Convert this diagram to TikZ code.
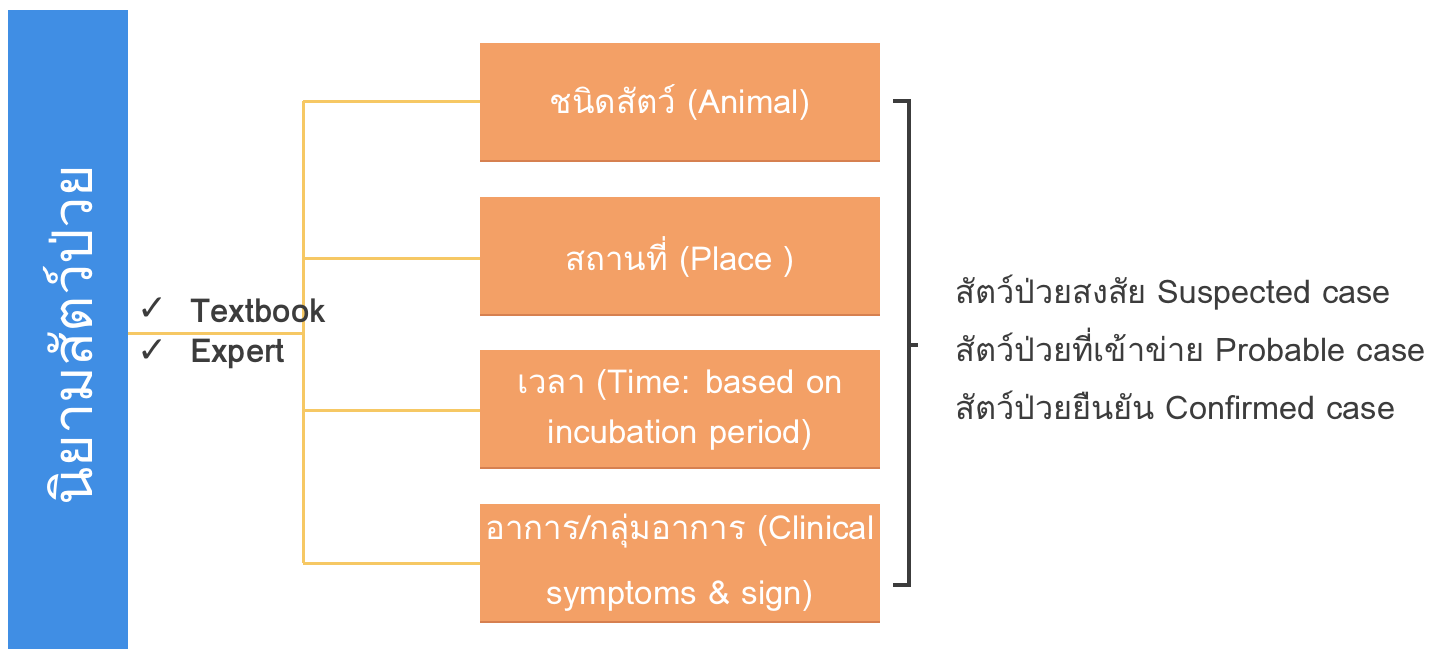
\documentclass[tikz,border=0pt]{standalone}
\usepackage{fontspec}
\setmainfont[Script=Thai]{Loma}
\newfontfamily\thaifont[Script=Thai]{Loma}
\newfontfamily\symfont{DejaVu Sans}
\definecolor{barblue}{RGB}{64,142,228}
\definecolor{boxorange}{RGB}{243,160,102}
\definecolor{boxshade}{RGB}{214,128,80}
\definecolor{gold}{RGB}{246,200,100}
\definecolor{darktext}{RGB}{60,60,60}
\tikzset{
  box/.style={fill=boxorange, minimum width=400pt, minimum height=119pt, inner sep=0pt,
    text=white, font=\thaifont\fontsize{33}{50}\selectfont, align=center},
  link/.style={draw=gold, line width=3pt},
  brace/.style={draw=darktext, line width=4pt},
  checkmark/.style={anchor=west, inner sep=0pt, text=darktext, font=\symfont\fontsize{36}{36}\selectfont},
  checktext/.style={anchor=west, inner sep=0pt, text=darktext, font=\thaifont\bfseries\fontsize{33}{33}\selectfont},
  caselabel/.style={text=darktext, font=\thaifont\fontsize{32.5}{58}\selectfont, align=left, anchor=west, inner sep=0pt}
}
\begin{document}
\begin{tikzpicture}[x=1pt,y=-1pt]
\useasboundingbox (0,0) rectangle (1431,649);
\fill[white] (0,0) rectangle (1431,649);
% blue bar with its vertical title
\fill[barblue] (8,10) rectangle (128,649);
\node[rotate=90, text=white, font=\thaifont\fontsize{56}{60}\selectfont] (bartext) at (68,335) {นิยามสัตว์ป่วย};
% boxes
\node[box] (b1) at (680,102.5) {ชนิดสัตว์ (Animal)};
\node[box] (b2) at (680,256.5) {สถานที่ (Place )};
\node[box] (b3) at (680,409.5) {เวลา (Time: based on\\incubation period)};
\node[box, font=\thaifont\fontsize{33}{65}\selectfont] (b4) at (680,563) {อาการ/กลุ่มอาการ (Clinical\\symptoms \& sign)};
\foreach \b in {b1,b2,b3,b4}{
  \fill[boxshade] (\b.south west) ++(0,-2) rectangle (\b.south east);
}
% connectors
\coordinate (hub) at (303,333);
\coordinate (top) at (303,101);
\coordinate (bot) at (303,563);
\coordinate (barR) at (128,333);
\draw[link] (barR) -- (hub);
\draw[link] (top) -- (bot);
\draw[link] (top) -- (b1.west |- top);
\draw[link] (303,258) -- (b2.west |- 0,258);
\draw[link] (303,410) -- (b3.west |- 0,410);
\draw[link] (bot) -- (b4.west |- bot);
% check list
\node[checkmark] (c1) at (137,309) {✓};
\node[checkmark] (c2) at (137,351) {✓};
\node[checktext] (t1) at (190,311) {Textbook};
\node[checktext] (t2) at (190,354) {Expert};
% bracket
\coordinate (bt) at (909,101);
\coordinate (bb) at (909,585);
\coordinate (bm) at (909,345);
\draw[brace] (893,101) -- (bt) -- (bb) -- (893,585);
\draw[brace] (bm) -- (918,345);
% case labels
\node[caselabel] (cases) at (955,347) {สัตว์ป่วยสงสัย Suspected case\\สัตว์ป่วยที่เข้าข่าย Probable case\\สัตว์ป่วยยืนยัน Confirmed case};
\end{tikzpicture}
\end{document}
